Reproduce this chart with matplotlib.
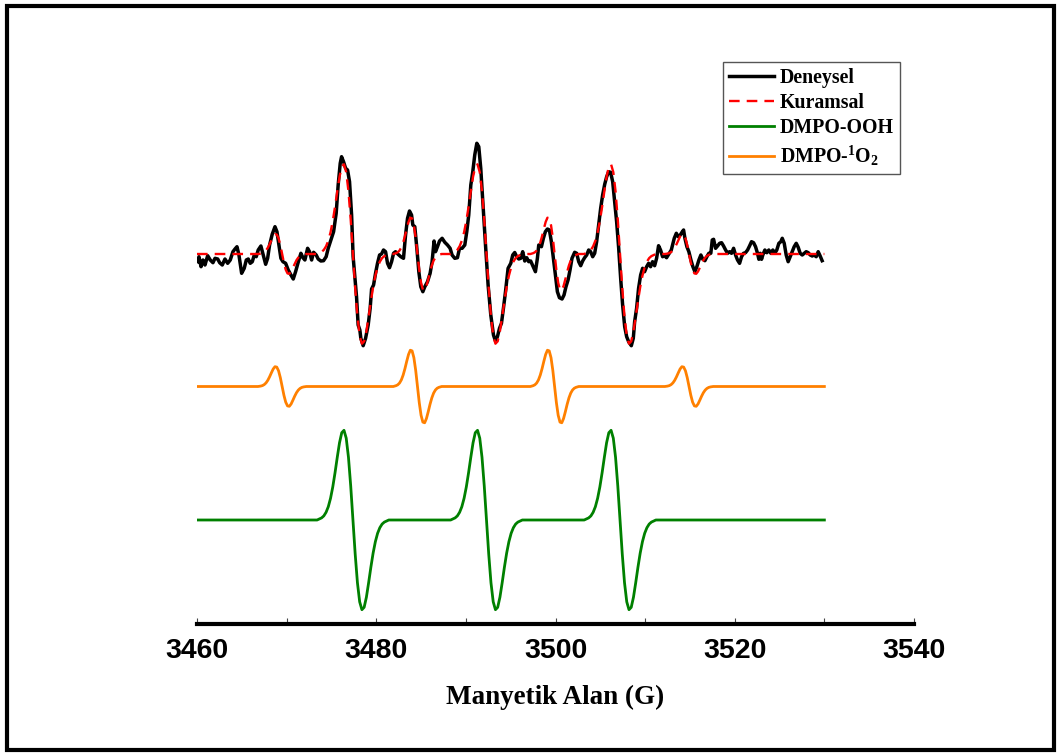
import numpy as np
import matplotlib
matplotlib.use('Agg')
import matplotlib.pyplot as plt
from matplotlib.patches import Rectangle

plt.rcParams['mathtext.fontset'] = 'custom'
plt.rcParams['mathtext.rm'] = 'Liberation Serif:bold'
plt.rcParams['mathtext.bf'] = 'Liberation Serif:bold'
plt.rcParams['mathtext.it'] = 'Liberation Serif:bold'

# ---------------- data (magnetic field in G, intensity in arbitrary units) ----------------
deneysel_x = [3460.08, 3460.22, 3460.45, 3460.67, 3460.89, 3461.19, 3461.48, 3461.78, 3462.01, 3462.31,
              3462.53, 3462.82, 3463.12, 3463.42, 3463.71, 3464.01, 3464.24, 3464.46, 3464.68, 3464.98,
              3465.27, 3465.50, 3465.72, 3465.94, 3466.17, 3466.39, 3466.61, 3466.83, 3467.13, 3467.44,
              3467.66, 3467.88, 3468.10, 3468.39, 3468.70, 3468.92, 3469.14, 3469.36, 3469.59, 3469.89,
              3470.18, 3470.48, 3470.74, 3471.00, 3471.29, 3471.59, 3471.82, 3472.04, 3472.34, 3472.56,
              3472.79, 3473.01, 3473.30, 3473.52, 3473.82, 3474.12, 3474.41, 3474.64, 3474.94, 3475.24,
              3475.53, 3475.75, 3475.98, 3476.13, 3476.35, 3476.58, 3476.80, 3477.02, 3477.25, 3477.42,
              3477.80, 3477.98, 3478.17, 3478.28, 3478.54, 3478.81, 3479.10, 3479.32, 3479.48, 3479.70,
              3479.92, 3480.14, 3480.37, 3480.59, 3480.81, 3481.04, 3481.26, 3481.48, 3481.71, 3481.93,
              3482.15, 3482.44, 3482.74, 3483.04, 3483.27, 3483.49, 3483.71, 3483.94, 3484.08, 3484.30,
              3484.53, 3484.75, 3484.97, 3485.20, 3485.42, 3485.72, 3486.01, 3486.23, 3486.45, 3486.61,
              3486.83, 3487.06, 3487.35, 3487.65, 3487.95, 3488.24, 3488.46, 3488.76, 3489.06, 3489.29,
              3489.58, 3489.88, 3490.10, 3490.32, 3490.55, 3490.77, 3490.99, 3491.22, 3491.44, 3491.66,
              3491.89, 3492.19, 3492.48, 3492.78, 3493.08, 3493.30, 3493.52, 3493.75, 3493.97, 3494.19,
              3494.42, 3494.71, 3495.01, 3495.23, 3495.45, 3495.67, 3495.90, 3496.12, 3496.34, 3496.57,
              3496.79, 3497.01, 3497.23, 3497.46, 3497.76, 3497.98, 3498.13, 3498.43, 3498.65, 3498.87,
              3499.10, 3499.32, 3499.54, 3499.77, 3499.99, 3500.21, 3500.44, 3500.73, 3500.95, 3501.17,
              3501.40, 3501.62, 3501.84, 3502.14, 3502.36, 3502.59, 3502.81, 3503.03, 3503.25, 3503.48,
              3503.70, 3503.92, 3504.15, 3504.37, 3504.59, 3504.82, 3505.04, 3505.26, 3505.49, 3505.71,
              3505.93, 3506.15, 3506.38, 3506.60, 3506.82, 3507.05, 3507.27, 3507.49, 3507.72, 3507.94,
              3508.16, 3508.46, 3508.68, 3508.83, 3509.05, 3509.27, 3509.50, 3509.72, 3509.94, 3510.17,
              3510.39, 3510.61, 3510.83, 3511.06, 3511.28, 3511.50, 3511.72, 3511.95, 3512.17, 3512.39,
              3512.62, 3512.92, 3513.25, 3513.48, 3513.70, 3513.92, 3514.15, 3514.29, 3514.44, 3514.66,
              3514.88, 3515.11, 3515.33, 3515.55, 3515.77, 3516.00, 3516.22, 3516.44, 3516.67, 3516.89,
              3517.11, 3517.33, 3517.49, 3517.64, 3517.86, 3518.08, 3518.31, 3518.53, 3518.75, 3518.98,
              3519.20, 3519.42, 3519.64, 3519.87, 3520.09, 3520.31, 3520.54, 3520.76, 3520.98, 3521.20,
              3521.43, 3521.65, 3521.87, 3522.10, 3522.32, 3522.54, 3522.69, 3522.84, 3522.99, 3523.13,
              3523.36, 3523.58, 3523.80, 3524.03, 3524.25, 3524.47, 3524.69, 3524.92, 3525.14, 3525.30,
              3525.52, 3525.74, 3525.96, 3526.19, 3526.41, 3526.63, 3526.86, 3527.08, 3527.30, 3527.53,
              3527.75, 3527.97, 3528.20, 3528.42, 3528.64, 3528.86, 3529.09, 3529.31, 3529.53, 3529.75]
deneysel_y = [-7.7, -2.7, -12.7, -6, -11, -1.7, -6, -8.7, -4.3, -5,
              -8.7, -11, -5, -9.3, -6, 2.3, 5, 7.3, -1, -19.3,
              -14.3, -6, -5, -9.3, -7.7, -1, -2.7, 4, 8, -2.7,
              -10.3, -4.3, 9, 19.7, 27.3, 22.3, 9, -4.3, -7.7, -9.3,
              -16, -21, -25, -17.7, -8.3, 0.7, -3.7, -6, 5.7, 2.3,
              -6, 1.7, -1, -5, -7, -6.7, -2.7, 5.7, 14, 22.3,
              40.7, 69, 90.7, 97.3, 92.3, 85.7, 84, 72.3, 39, -2.7,
              -42.7, -71, -76, -84.3, -91.7, -84.3, -71, -54.3, -35, -31,
              -19.3, -9.3, -1, 0, 4, 2.3, -9.3, -13.7, -7.7, 0.7,
              2.3, -0.3, -2.7, -4.3, 19, 35.7, 43, 39, 29, 27.3,
              5.7, -17.7, -32.7, -37.7, -32.7, -27.7, -19.3, -7.7, 13, 2.3,
              7.3, 13, 15.7, 11.7, 9, 5.7, -1, -4.3, -3.7, 5.7,
              5.7, 9, 22.3, 39, 69, 82.3, 99, 110.7, 107.3, 85.7,
              52.3, 9, -31, -61, -81, -87, -82.7, -74.3, -69.3, -54.3,
              -37.7, -14.3, -9.3, -1, 1.5, -2.7, -5, -4.3, 2.3, -7,
              -3.7, -7.7, -7, -11.7, -17.7, -4.3, 9, 7.3, 15.7, 22.3,
              25, 24, 12.3, -4.3, -21, -37.7, -43.7, -45, -41, -32.7,
              -26, -16, -4.3, 1.7, 0.7, -7.7, -11.7, -7, -3.7, -1,
              4, 2.3, -2.7, 0.7, 12.3, 29, 45.7, 59, 69.7, 77.3,
              82.3, 81.7, 72.3, 52.3, 32.3, 5.7, -24.3, -51, -72.7, -82.7,
              -87.7, -91.7, -84.3, -67.7, -54.3, -34.3, -21, -14.3, -17.7, -12.7,
              -9.3, -12.7, -7.7, -11.7, -4.3, 8.3, 4, -2.7, -1.7, -3.7,
              -0.3, 4, 15.7, 20.7, 17.3, 19, 22.3, 24, 15.7, 7.3,
              2.3, -6, -12.7, -17.7, -12.7, -6, -1, -5.3, -6.7, -2.7,
              0.7, 0.7, 14, 14.7, 5.7, 8, 10.7, 11.3, 8, 4,
              0.7, 2.3, 0.7, 5.7, -1, -6, -9.3, -2.7, 0.7, 1.3,
              4, 8, 12.3, 11.3, 7.3, 0.7, -5.3, 0.7, -5.3, -1,
              4, 1.3, 4, 0.7, 4, 0.7, 4, 10.7, 12.3, 15.7,
              10.7, -1, -7.7, -2.7, 2.3, 7.3, 10.7, 6.7, 0.7, -1,
              0.7, 2.3, 1.3, -1, -2, -1, -2.7, 2.3, -2, -6.7]

dmpo_o2_x = [3460.0,
             3466.8, 3467.1, 3467.3, 3467.5, 3467.7, 3467.9, 3468.1, 3468.3, 3468.5, 3468.7, 3468.9, 3469.1, 3469.3,
             3469.5, 3469.7, 3469.9, 3470.1, 3470.3, 3470.5, 3470.7, 3470.9, 3471.1, 3471.3, 3471.5, 3471.7, 3471.9,
             3472.2,
             3481.9, 3482.2, 3482.4, 3482.6, 3482.8, 3483.0, 3483.2, 3483.4, 3483.6, 3483.8, 3484.0, 3484.2, 3484.4,
             3484.6, 3484.8, 3485.0, 3485.2, 3485.4, 3485.6, 3485.8, 3486.0, 3486.2, 3486.4, 3486.6, 3486.8, 3487.0,
             3487.3,
             3497.2, 3497.5, 3497.7, 3497.9, 3498.1, 3498.3, 3498.5, 3498.7, 3498.9, 3499.1, 3499.3, 3499.5, 3499.7,
             3499.9, 3500.1, 3500.3, 3500.5, 3500.7, 3500.9, 3501.1, 3501.3, 3501.5, 3501.7, 3501.9, 3502.1, 3502.3,
             3502.6,
             3512.2, 3512.5, 3512.7, 3512.9, 3513.1, 3513.3, 3513.5, 3513.7, 3513.9, 3514.1, 3514.3, 3514.5, 3514.7,
             3514.9, 3515.1, 3515.3, 3515.5, 3515.7, 3515.9, 3516.1, 3516.3, 3516.5, 3516.7, 3516.9, 3517.1, 3517.3,
             3517.6,
             3530.0]
dmpo_o2_y = [0,
             0, 0.4, 0.9, 1.9, 3.6, 6.2, 9.7, 13.7, 17.5, 19.8, 19.4, 15.7, 8.8,
             0, -8.8, -15.7, -19.4, -19.8, -17.5, -13.7, -9.7, -6.2, -3.6, -1.9, -0.9, -0.4,
             0,
             0, 0.8, 1.7, 3.5, 6.6, 11.4, 17.8, 25.2, 32.0, 36.3, 35.6, 28.8, 16.2,
             0, -16.2, -28.8, -35.6, -36.3, -32.0, -25.2, -17.8, -11.4, -6.6, -3.5, -1.7, -0.8,
             0,
             0, 0.8, 1.7, 3.5, 6.6, 11.4, 17.8, 25.2, 32.0, 36.3, 35.6, 28.8, 16.2,
             0, -16.2, -28.8, -35.6, -36.3, -32.0, -25.2, -17.8, -11.4, -6.6, -3.5, -1.7, -0.8,
             0,
             0, 0.4, 0.9, 1.9, 3.6, 6.2, 9.7, 13.7, 17.5, 19.8, 19.4, 15.7, 8.8,
             0, -8.8, -15.7, -19.4, -19.8, -17.5, -13.7, -9.7, -6.2, -3.6, -1.9, -0.9, -0.4,
             0,
             0]

dmpo_ooh_x = [3460.0,
              3473.4, 3473.9, 3474.15, 3474.4, 3474.65, 3474.9, 3475.15, 3475.4, 3475.65, 3475.9, 3476.15, 3476.4,
              3476.65, 3476.9, 3477.15, 3477.4, 3477.65, 3477.9, 3478.15, 3478.4, 3478.65, 3478.9, 3479.15, 3479.4,
              3479.65, 3479.9, 3480.15, 3480.4, 3480.65, 3480.9, 3481.4,
              3488.3, 3488.8, 3489.05, 3489.3, 3489.55, 3489.8, 3490.05, 3490.3, 3490.55, 3490.8, 3491.05, 3491.3,
              3491.55, 3491.8, 3492.05, 3492.3, 3492.55, 3492.8, 3493.05, 3493.3, 3493.55, 3493.8, 3494.05, 3494.3,
              3494.55, 3494.8, 3495.05, 3495.3, 3495.55, 3495.8, 3496.3,
              3503.2, 3503.7, 3503.95, 3504.2, 3504.45, 3504.7, 3504.95, 3505.2, 3505.45, 3505.7, 3505.95, 3506.2,
              3506.45, 3506.7, 3506.95, 3507.2, 3507.45, 3507.7, 3507.95, 3508.2, 3508.45, 3508.7, 3508.95, 3509.2,
              3509.45, 3509.7, 3509.95, 3510.2, 3510.45, 3510.7, 3511.2,
              3530.0]
dmpo_ooh_y = [0,
              0, 2.1, 4.1, 7.7, 13.3, 21.7, 33.1, 47.2, 62.7, 77.2, 87.3, 89.7,
              81.8, 62.7, 34.1, 0, -34.1, -62.7, -81.8, -89.7, -87.3, -77.2, -62.7, -47.2,
              -33.1, -21.7, -13.3, -7.7, -4.1, -2.1, 0,
              0, 2.1, 4.1, 7.7, 13.3, 21.7, 33.1, 47.2, 62.7, 77.2, 87.3, 89.7,
              81.8, 62.7, 34.1, 0, -34.1, -62.7, -81.8, -89.7, -87.3, -77.2, -62.7, -47.2,
              -33.1, -21.7, -13.3, -7.7, -4.1, -2.1, 0,
              0, 2.1, 4.1, 7.7, 13.3, 21.7, 33.1, 47.2, 62.7, 77.2, 87.3, 89.7,
              81.8, 62.7, 34.1, 0, -34.1, -62.7, -81.8, -89.7, -87.3, -77.2, -62.7, -47.2,
              -33.1, -21.7, -13.3, -7.7, -4.1, -2.1, 0,
              0]

kuramsal_x = [3460.0,
              3466.8, 3467.1, 3467.3, 3467.5, 3467.7, 3467.9, 3468.1, 3468.3, 3468.5, 3468.7, 3468.9, 3469.1, 3469.3,
              3469.5, 3469.7, 3469.9, 3470.1, 3470.3, 3470.5, 3470.7, 3470.9, 3471.1, 3471.3, 3471.5, 3471.7, 3471.9,
              3472.2,
              3473.4, 3473.9, 3474.15, 3474.4, 3474.65, 3474.9, 3475.15, 3475.4, 3475.65, 3475.9, 3476.15, 3476.4,
              3476.65, 3476.9, 3477.15, 3477.4, 3477.65, 3477.9, 3478.15, 3478.4, 3478.65, 3478.9, 3479.15, 3479.4,
              3479.65, 3479.9, 3480.15, 3480.4, 3480.65, 3480.9, 3481.4,
              3481.9, 3482.2, 3482.4, 3482.6, 3482.8, 3483.0, 3483.2, 3483.4, 3483.6, 3483.8, 3484.0, 3484.2, 3484.4,
              3484.6, 3484.8, 3485.0, 3485.2, 3485.4, 3485.6, 3485.8, 3486.0, 3486.2, 3486.4, 3486.6, 3486.8, 3487.0,
              3487.3,
              3488.3, 3488.8, 3489.05, 3489.3, 3489.55, 3489.8, 3490.05, 3490.3, 3490.55, 3490.8, 3491.05, 3491.3,
              3491.55, 3491.8, 3492.05, 3492.3, 3492.55, 3492.8, 3493.05, 3493.3, 3493.55, 3493.8, 3494.05, 3494.3,
              3494.55, 3494.8, 3495.05, 3495.3, 3495.55, 3495.8, 3496.3,
              3497.2, 3497.5, 3497.7, 3497.9, 3498.1, 3498.3, 3498.5, 3498.7, 3498.9, 3499.1, 3499.3, 3499.5, 3499.7,
              3499.9, 3500.1, 3500.3, 3500.5, 3500.7, 3500.9, 3501.1, 3501.3, 3501.5, 3501.7, 3501.9, 3502.1, 3502.3,
              3502.6,
              3503.2, 3503.7, 3503.95, 3504.2, 3504.45, 3504.7, 3504.95, 3505.2, 3505.45, 3505.7, 3505.95, 3506.2,
              3506.45, 3506.7, 3506.95, 3507.2, 3507.45, 3507.7, 3507.95, 3508.2, 3508.45, 3508.7, 3508.95, 3509.2,
              3509.45, 3509.7, 3509.95, 3510.2, 3510.45, 3510.7, 3511.2,
              3512.2, 3512.5, 3512.7, 3512.9, 3513.1, 3513.3, 3513.5, 3513.7, 3513.9, 3514.1, 3514.3, 3514.5, 3514.7,
              3514.9, 3515.1, 3515.3, 3515.5, 3515.7, 3515.9, 3516.1, 3516.3, 3516.5, 3516.7, 3516.9, 3517.1, 3517.3,
              3517.6,
              3530.0]
kuramsal_y = [0,
              0, 0.4, 0.9, 1.9, 3.6, 6.2, 9.7, 13.7, 17.5, 19.8, 19.4, 15.7, 8.8,
              0, -8.8, -15.7, -19.4, -19.8, -17.5, -13.7, -9.7, -6.2, -3.6, -1.9, -0.9, -0.4,
              0,
              0, 2.1, 4.1, 7.7, 13.3, 21.7, 33.1, 47.2, 62.7, 77.2, 87.3, 89.7,
              81.8, 62.7, 34.1, 0, -34.1, -62.7, -81.8, -89.7, -87.3, -77.2, -62.7, -47.2,
              -33.1, -21.7, -13.3, -7.7, -4.1, -2.1, 0,
              0, 0.8, 1.7, 3.5, 6.6, 11.4, 17.8, 25.2, 32.0, 36.3, 35.6, 28.8, 16.2,
              0, -16.2, -28.8, -35.6, -36.3, -32.0, -25.2, -17.8, -11.4, -6.6, -3.5, -1.7, -0.8,
              0,
              0, 2.1, 4.1, 7.7, 13.3, 21.7, 33.1, 47.2, 62.7, 77.2, 87.3, 89.7,
              81.8, 62.7, 34.1, 0, -34.1, -62.7, -81.8, -89.7, -87.3, -77.2, -62.7, -47.2,
              -33.1, -21.7, -13.3, -7.7, -4.1, -2.1, 0,
              0, 0.8, 1.7, 3.5, 6.6, 11.4, 17.8, 25.2, 32.0, 36.3, 35.6, 28.8, 16.2,
              0, -16.2, -28.8, -35.6, -36.3, -32.0, -25.2, -17.8, -11.4, -6.6, -3.5, -1.7, -0.8,
              0,
              0, 2.1, 4.1, 7.7, 13.3, 21.7, 33.1, 47.2, 62.7, 77.2, 87.3, 89.7,
              81.8, 62.7, 34.1, 0, -34.1, -62.7, -81.8, -89.7, -87.3, -77.2, -62.7, -47.2,
              -33.1, -21.7, -13.3, -7.7, -4.1, -2.1, 0,
              0, 0.4, 0.9, 1.9, 3.6, 6.2, 9.7, 13.7, 17.5, 19.8, 19.4, 15.7, 8.8,
              0, -8.8, -15.7, -19.4, -19.8, -17.5, -13.7, -9.7, -6.2, -3.6, -1.9, -0.9, -0.4,
              0,
              0]

x_ticks = [3460, 3480, 3500, 3520, 3540]
x_tick_labels = ['3460', '3480', '3500', '3520', '3540']
x_minor_ticks = [3470, 3490, 3510, 3530]
x_label = 'Manyetik Alan (G)'
legend_labels = ['Deneysel', 'Kuramsal', 'DMPO-OOH', 'DMPO-$^{1}$O$_{2}$']

# vertical stacking offsets (layout only)
off_exp = 370.0
off_o2 = 237.5
off_ooh = 104.0

# ---------------- figure ----------------
W, H = 1059, 755
fig = plt.figure(figsize=(W / 100, H / 100), dpi=100)
ax_left, ax_right, ax_bottom, ax_top = 197, 914, 624, 40
ax = fig.add_axes([ax_left / W, (H - ax_bottom) / H, (ax_right - ax_left) / W, (ax_bottom - ax_top) / H])

ax.plot(deneysel_x, np.array(deneysel_y) + off_exp, color='black', lw=2.5, label=legend_labels[0],
        solid_joinstyle='round', zorder=3)
ax.plot(kuramsal_x, np.array(kuramsal_y) + off_exp, color='#ff0000', lw=1.7, ls=(0, (4.5, 3.0)),
        label=legend_labels[1], zorder=4)
ax.plot(dmpo_ooh_x, np.array(dmpo_ooh_y) + off_ooh, color='#008000', lw=2.0, label=legend_labels[2], zorder=3)
ax.plot(dmpo_o2_x, np.array(dmpo_o2_y) + off_o2, color='#ff8000', lw=2.0, label=legend_labels[3], zorder=3)

ax.set_xlim(3460, 3540)
ax.set_ylim(0, ax_bottom - ax_top)
for s in ['top', 'right', 'left']:
    ax.spines[s].set_visible(False)
ax.spines['bottom'].set_linewidth(3.0)
ax.spines['bottom'].set_color('black')
ax.set_yticks([])
ax.set_xticks(x_ticks)
ax.set_xticklabels(x_tick_labels)
ax.set_xticks(x_minor_ticks, minor=True)
ax.tick_params(axis='x', which='both', direction='in', length=4, width=0.8, color='#444444', pad=10)
for lab in ax.get_xticklabels():
    lab.set_fontfamily('Liberation Sans')
    lab.set_fontweight('bold')
    lab.set_fontsize(20.5)

ax.set_xlabel(x_label, fontfamily='Liberation Serif', fontweight='bold', fontsize=19.5)
ax.xaxis.set_label_coords(0.5, (ax_bottom - 697) / (ax_bottom - ax_top))
ax.xaxis.label.set_va('center')

leg = ax.legend(loc='upper left', bbox_to_anchor=(722.7 / W, 1 - 61.7 / H), bbox_transform=fig.transFigure,
                prop={'family': 'Liberation Serif', 'weight': 'bold', 'size': 14.3},
                frameon=True, fancybox=False, framealpha=1, edgecolor='#555555',
                handlelength=2.3, handletextpad=0.28, borderpad=0.3, labelspacing=0.27, borderaxespad=0)
leg.get_frame().set_linewidth(1.0)

fig.add_artist(Rectangle((7 / W, 5 / H), (1054 - 7) / W, (750 - 5.5) / H, transform=fig.transFigure,
                         fill=False, edgecolor='black', lw=3.0))

fig.savefig('out.png', dpi=100)
